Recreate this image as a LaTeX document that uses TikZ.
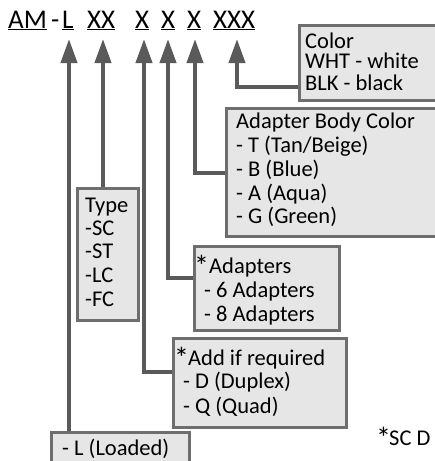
\documentclass[tikz,border=0pt]{standalone}
\usepackage{fontspec}
\setmainfont{Carlito}
\usetikzlibrary{arrows.meta}
\definecolor{conncol}{HTML}{5A5A5A}
\definecolor{boxline}{HTML}{6E6E6E}
\definecolor{boxfill}{HTML}{E6E6E7}
\begin{document}
\begin{tikzpicture}[x=1pt,y=-1pt,
  box/.style={draw=boxline, line width=2.5pt, fill=boxfill, inner sep=0, anchor=north west},
  lbl/.style={anchor=base west, inner sep=0, font=\fontsize{22.5}{24}\selectfont},
  star/.style={anchor=base west, inner sep=0, font=\fontsize{30}{30}\selectfont},
  hdr/.style={anchor=base west, inner sep=0, font=\fontsize{27}{30}\selectfont},
  conn/.style={draw=conncol, line width=4pt, -{Triangle[width=16pt,length=24pt]}}]
\useasboundingbox (0,0) rectangle (435,461);
% header
\node[hdr] (am) at (8,28) {\underline{AM}};
\node[hdr] (dash) at (51,28) {-};
\node[hdr] (hL) at (62,28) {\underline{L}};
\node[hdr] (hXX) at (87,28) {\underline{XX}};
\node[hdr] (hX1) at (135,28) {\underline{X}};
\node[hdr] (hX2) at (161,28) {\underline{X}};
\node[hdr] (hX3) at (187,28) {\underline{X}};
\node[hdr] (hXXX) at (213,28) {\underline{XXX}};
\coordinate (tL) at (69,39);
\coordinate (tXX) at (103,39);
\coordinate (tX1) at (144,39);
\coordinate (tX2) at (168,39);
\coordinate (tX3) at (195,39);
\coordinate (tXXX) at (237,39);
% boxes
\node[box, minimum width=150pt, minimum height=75pt] (col) at (298,24) {};
\node[box, minimum width=220pt, minimum height=128pt] (abc) at (225,107) {};
\node[box, minimum width=61pt, minimum height=132pt] (type) at (76,187) {};
\node[box, minimum width=145pt, minimum height=84pt] (adp) at (193,245) {};
\node[box, minimum width=173pt, minimum height=89pt] (add) at (172,337) {};
\node[box, minimum width=138pt, minimum height=50pt] (ld) at (50,431) {};
% connectors
\draw[conn] (ld.north -| tL) -- (tL);
\draw[conn] (type.north -| tXX) -- (tXX);
\draw[conn] ([yshift=-35pt]add.north west) -| (tX1);
\draw[conn] ([yshift=-33pt]adp.north west) -| (tX2);
\draw[conn] ([yshift=-66pt]abc.north west) -| (tX3);
\draw[conn] ([yshift=-63pt]col.north west) -| (tXXX);
% labels
\node[lbl] (c1) at (305,48) {Color};
\node[lbl] (c2) at (305,68.5) {WHT - white};
\node[lbl] (c3) at (305,90) {BLK - black};
\node[lbl] (a1) at (236,128) {Adapter Body Color};
\node[lbl] (a2) at (236,152) {- T (Tan/Beige)};
\node[lbl] (a3) at (236,176) {- B (Blue)};
\node[lbl] (a4) at (236,200) {- A (Aqua)};
\node[lbl] (a5) at (236,223) {- G (Green)};
\node[lbl] (t1) at (85,212) {Type};
\node[lbl] (t2) at (85,235) {-SC};
\node[lbl] (t3) at (85,258) {-ST};
\node[lbl] (t4) at (85,282) {-LC};
\node[lbl] (t5) at (85,306) {-FC};
\node[star] (d0) at (194,276) {*};
\node[lbl] (d1) at (209,273) {Adapters};
\node[lbl] (d2) at (204,297) {- 6 Adapters};
\node[lbl] (d3) at (204,321) {- 8 Adapters};
\node[star] (e0) at (174,368) {*};
\node[lbl] (e1) at (188,365) {Add if required};
\node[lbl] (e2) at (183,388) {- D (Duplex)};
\node[lbl] (e3) at (183,413) {- Q (Quad)};
\node[lbl] (l1) at (62,455) {- L (Loaded)};
\node[star] (s0) at (376,448) {*};
\node[lbl] (s1) at (389,445) {SC D};
\end{tikzpicture}
\end{document}
